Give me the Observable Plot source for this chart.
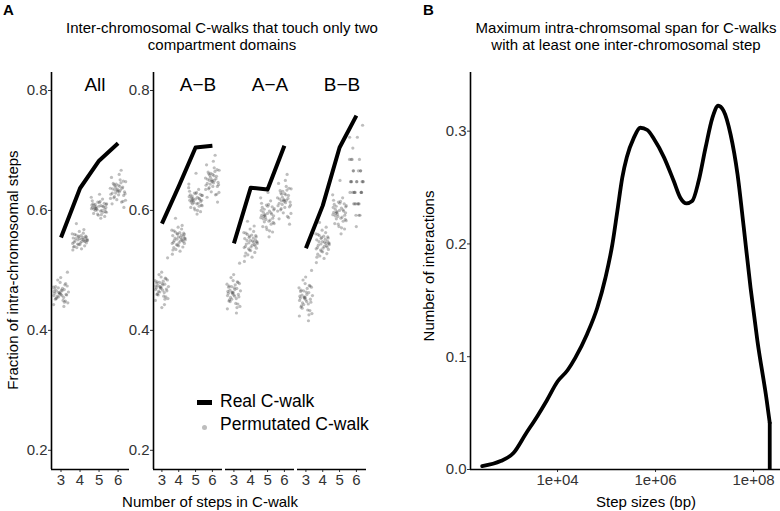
<!DOCTYPE html>
<html>
<head>
<meta charset="utf-8">
<script src="https://cdn.jsdelivr.net/npm/d3@7"></script>
<script src="https://cdn.jsdelivr.net/npm/@observablehq/plot@0.6"></script>
<style>
  html, body { margin: 0; padding: 0; background: white; }
  #wrap { position: relative; width: 780px; height: 511px; overflow: hidden; background: white;
          font-family: "Liberation Sans", Arial, sans-serif; color: black; }
  .abs { position: absolute; white-space: nowrap; }
  .ctr { transform: translateX(-50%); text-align: center; }
  .plotbox { position: absolute; }
</style>
</head>
<body>
<div id="wrap">
  <div class="abs" style="left:3px;top:1px;font-size:15px;font-weight:bold;">A</div>
  <div class="abs" style="left:423px;top:1px;font-size:15px;font-weight:bold;">B</div>
  <div class="abs ctr" style="left:222px;top:19px;font-size:15px;line-height:17px;">Inter-chromosomal C-walks that touch only two<br>compartment domains</div>
  <div class="abs ctr" style="left:626px;top:19px;font-size:15px;line-height:17px;">Maximum intra-chromsomal span for C-walks<br>with at least one inter-chromosomal step</div>
  <div class="abs" style="left:12px;top:270px;font-size:15px;line-height:15px;transform:translate(-50%,-50%) rotate(-90deg);">Fraction of intra-chromosomal steps</div>
  <div class="abs ctr" style="left:210px;top:494px;font-size:15px;line-height:15px;">Number of steps in C-walk</div>
  <div class="abs" style="left:428px;top:266px;font-size:15px;line-height:15px;transform:translate(-50%,-50%) rotate(-90deg);">Number of interactions</div>
  <div class="abs ctr" style="left:646px;top:494px;font-size:15px;line-height:15px;">Step sizes (bp)</div>
  <div id="p1" class="plotbox" style="left:0px;top:60px;"></div>
  <div id="p2" class="plotbox" style="left:100px;top:60px;"></div>
  <div id="p3" class="plotbox" style="left:400px;top:60px;"></div>
  <!-- legend -->
  <div class="abs" style="left:197px;top:400px;width:15px;height:5px;background:black;"></div>
  <div class="abs" style="left:220px;top:392px;font-size:17.5px;line-height:19px;">Real C-walk</div>
  <div class="abs" style="left:201.5px;top:424.5px;width:5px;height:5px;border-radius:50%;background:#bdbdbd;"></div>
  <div class="abs" style="left:220px;top:415px;font-size:17.5px;line-height:19px;">Permutated C-walk</div>
</div>
<script>
// ---------------- Panel A data ----------------
const panels = ["All", "A−B", "A−A", "B−B"];
const steps = [3, 4, 5, 6];
const yTicksA = [0.2, 0.4, 0.6, 0.8];

const realAll = [0.555, 0.637, 0.683, 0.712];
const realAB  = [0.578, 0.640, 0.705, 0.708];
const realAA  = [0.545, 0.638, 0.635, 0.708];
const realBB  = [0.537, 0.608, 0.705, 0.758];

const permAll3 = [0.471,0.455,0.462,0.480,0.449,0.466,0.458,0.474,0.443,0.463,0.468,0.452,0.488,0.460,0.457,0.470,0.446,0.465,0.461,0.476,0.453,0.467,0.459,0.484,0.450,0.464,0.472,0.456,0.440,0.469,0.462,0.478,0.454,0.466,0.497,0.458,0.463,0.447,0.473,0.460];
const permAll4 = [0.556,0.545,0.551,0.562,0.540,0.553,0.548,0.559,0.536,0.550,0.554,0.543,0.568,0.549,0.546,0.557,0.538,0.552,0.550,0.561,0.544,0.555,0.547,0.565,0.541,0.553,0.558,0.546,0.534,0.556,0.551,0.560,0.543,0.554,0.578,0.548,0.552,0.539,0.557,0.549];
const permAll5 = [0.610,0.599,0.605,0.616,0.594,0.607,0.602,0.613,0.590,0.604,0.608,0.597,0.622,0.603,0.600,0.611,0.592,0.606,0.604,0.615,0.598,0.609,0.601,0.619,0.595,0.607,0.612,0.600,0.587,0.610,0.605,0.614,0.597,0.608,0.627,0.602,0.606,0.593,0.611,0.603];
const permAll6 = [0.642,0.625,0.634,0.651,0.617,0.637,0.629,0.646,0.611,0.633,0.639,0.621,0.660,0.631,0.627,0.644,0.614,0.636,0.632,0.649,0.623,0.640,0.628,0.655,0.618,0.637,0.645,0.626,0.605,0.641,0.634,0.648,0.620,0.638,0.667,0.629,0.635,0.615,0.643,0.631];

const permAB3 = [0.480,0.463,0.471,0.489,0.456,0.475,0.467,0.484,0.450,0.472,0.477,0.460,0.497,0.469,0.465,0.482,0.453,0.474,0.470,0.487,0.461,0.478,0.466,0.493,0.457,0.473,0.483,0.464,0.443,0.479,0.471,0.486,0.459,0.476,0.521,0.468,0.473,0.452,0.481,0.438];
const permAB4 = [0.560,0.545,0.552,0.569,0.538,0.556,0.548,0.564,0.532,0.553,0.558,0.542,0.575,0.550,0.546,0.562,0.535,0.555,0.551,0.567,0.543,0.559,0.547,0.572,0.539,0.554,0.563,0.545,0.527,0.561,0.552,0.566,0.541,0.557,0.587,0.549,0.554,0.534,0.561,0.550];
const permAB5 = [0.624,0.611,0.617,0.632,0.604,0.620,0.614,0.628,0.598,0.618,0.622,0.608,0.638,0.616,0.612,0.626,0.601,0.619,0.616,0.630,0.609,0.623,0.613,0.635,0.605,0.619,0.627,0.611,0.594,0.625,0.617,0.629,0.607,0.621,0.662,0.615,0.620,0.600,0.625,0.644];
const permAB6 = [0.660,0.640,0.650,0.671,0.630,0.654,0.644,0.665,0.622,0.649,0.657,0.636,0.682,0.647,0.642,0.662,0.626,0.652,0.648,0.668,0.638,0.658,0.643,0.676,0.631,0.653,0.664,0.640,0.614,0.659,0.650,0.667,0.635,0.655,0.692,0.645,0.651,0.627,0.661,0.646];

const permAA3 = [0.473,0.453,0.462,0.483,0.444,0.467,0.457,0.478,0.436,0.463,0.470,0.449,0.493,0.460,0.455,0.476,0.440,0.465,0.461,0.481,0.451,0.471,0.456,0.488,0.445,0.466,0.477,0.452,0.429,0.472,0.463,0.480,0.448,0.468,0.512,0.458,0.464,0.438,0.474,0.459];
const permAA4 = [0.556,0.538,0.546,0.565,0.529,0.550,0.541,0.560,0.522,0.547,0.553,0.534,0.574,0.544,0.539,0.558,0.526,0.549,0.545,0.563,0.536,0.554,0.540,0.569,0.530,0.550,0.559,0.537,0.515,0.555,0.547,0.562,0.533,0.551,0.582,0.542,0.548,0.524,0.557,0.543];
const permAA5 = [0.602,0.582,0.591,0.612,0.572,0.596,0.586,0.607,0.564,0.592,0.599,0.578,0.621,0.589,0.584,0.605,0.568,0.594,0.590,0.610,0.580,0.600,0.585,0.616,0.573,0.595,0.606,0.581,0.556,0.601,0.592,0.609,0.577,0.597,0.630,0.587,0.593,0.566,0.603,0.588];
const permAA6 = [0.628,0.606,0.616,0.640,0.595,0.621,0.610,0.634,0.586,0.617,0.625,0.601,0.650,0.614,0.608,0.632,0.590,0.619,0.615,0.637,0.603,0.626,0.609,0.645,0.596,0.620,0.633,0.605,0.577,0.627,0.617,0.636,0.599,0.622,0.660,0.612,0.618,0.588,0.629,0.613];

const permBB3 = [0.466,0.444,0.454,0.478,0.433,0.459,0.448,0.472,0.424,0.455,0.463,0.439,0.489,0.452,0.446,0.470,0.428,0.457,0.453,0.475,0.441,0.464,0.447,0.484,0.434,0.458,0.471,0.443,0.416,0.465,0.455,0.474,0.437,0.460,0.500,0.450,0.456,0.426,0.467,0.451];
const permBB4 = [0.554,0.536,0.544,0.563,0.527,0.548,0.539,0.558,0.520,0.545,0.551,0.532,0.572,0.542,0.537,0.556,0.524,0.547,0.543,0.561,0.534,0.552,0.538,0.567,0.528,0.548,0.557,0.535,0.513,0.553,0.545,0.560,0.531,0.549,0.580,0.540,0.546,0.522,0.555,0.541];
const permBB5 = [0.607,0.587,0.596,0.617,0.577,0.601,0.591,0.612,0.569,0.597,0.604,0.583,0.626,0.594,0.589,0.610,0.573,0.599,0.595,0.615,0.585,0.605,0.590,0.621,0.578,0.600,0.611,0.586,0.561,0.606,0.597,0.614,0.582,0.602,0.650,0.592,0.598,0.571,0.608,0.593];
const permBB6 = [0.648,0.630,0.666,0.611,0.648,0.685,0.630,0.592,0.648,0.611,0.666,0.630,0.722,0.648,0.630,0.611,0.685,0.648,0.573,0.630,0.666,0.611,0.742,0.648,0.630,0.592,0.685,0.648,0.630,0.611,0.666,0.648,0.722,0.630,0.611,0.685,0.592,0.666,0.704];

// ---------------- Panel B data ----------------
const spanBp = [2.9e2,6.9e2,1.26e3,2.24e3,3.9e3,6.0e3,1.0e4,1.6e4,2.3e4,4.0e4,6.5e4,9.5e4,1.32e5,1.66e5,2.1e5,2.6e5,3.6e5,4.9e5,6.8e5,9.3e5,1.48e6,2.34e6,3.2e6,4.3e6,5.6e6,7.6e6,1.05e7,1.45e7,1.9e7,2.45e7,3.4e7,4.7e7,6.3e7,8.7e7,1.2e8,1.86e8,2.14e8];
const spanDensity = [0.003,0.0075,0.0146,0.0315,0.0475,0.061,0.078,0.088,0.099,0.12,0.1436,0.17,0.2,0.229,0.259,0.277,0.294,0.303,0.301,0.293,0.277,0.256,0.241,0.236,0.238,0.256,0.2855,0.312,0.3225,0.318,0.297,0.262,0.215,0.161,0.114,0.061,0.0415];
const xTicksB = [1e4, 1e6, 1e8];
const yTicksB = [0, 0.1, 0.2, 0.3];

// ---------------- build tables ----------------
const permByPanel = {
  "All": [permAll3, permAll4, permAll5, permAll6],
  "A−B": [permAB3, permAB4, permAB5, permAB6],
  "A−A": [permAA3, permAA4, permAA5, permAA6],
  "B−B": [permBB3, permBB4, permBB5, permBB6]
};
const realByPanel = {"All": realAll, "A−B": realAB, "A−A": realAA, "B−B": realBB};

const permRows = panels.flatMap(p => permByPanel[p].flatMap((vals, k) =>
  vals.map((v, i) => ({panel: p, steps: steps[k], value: v, i: i + 7 * k}))));
const realRows = panels.flatMap(p => realByPanel[p].map((v, k) => ({panel: p, steps: steps[k], value: v})));
const densRows = spanBp.map((x, i) => ({bp: x, density: spanDensity[i]}));

// deterministic horizontal jitter (layout only): van der Corput sequence, base 3
function vdc3(n) { let r = 0, f = 1 / 3; n = n + 1; while (n > 0) { r += (n % 3) * f; n = Math.floor(n / 3); f /= 3; } return r; }
const jitterW = 0.42;
const jitterX = i => (vdc3(i) - 0.5) * 2 * jitterW;

const xDomA = [2.5, 6.6];
const yDomA = [0.168, 0.83];
const font = "'Liberation Sans', Arial, sans-serif";
const baseStyle = {fontFamily: font, fontSize: "15px", color: "#333", background: "transparent", overflow: "visible"};
const axisStroke = {stroke: "black", strokeWidth: 1.6};

function xScaleA() { return {domain: xDomA, ticks: steps, tickFormat: d3.format("d"), tickSize: 3, tickPadding: 2, label: null}; }
function yScaleA() { return {domain: yDomA, ticks: yTicksA, tickFormat: d3.format(".1f"), tickSize: 3, tickPadding: 1, label: null}; }

// Plot 1: "All"
const p1 = Plot.plot({
  width: 134, height: 429, marginLeft: 51, marginRight: 5, marginTop: 12, marginBottom: 20,
  style: baseStyle,
  x: xScaleA(), y: yScaleA(),
  marks: [
    Plot.ruleX([xDomA[0]], axisStroke),
    Plot.ruleY([yDomA[0]], axisStroke),
    Plot.dot(permRows.filter(d => d.panel === "All"), {x: d => d.steps + jitterX(d.i), y: "value", r: 1.6, fill: "#444", fillOpacity: 0.35, stroke: "none"}),
    Plot.line(realRows.filter(d => d.panel === "All"), {x: "steps", y: "value", stroke: "black", strokeWidth: 4, strokeLinecap: "butt"}),
    Plot.text(["All"], {text: d => d, frameAnchor: "top", dy: 5, dx: 4.5, fontSize: 19, fill: "black"})
  ]
});
document.getElementById("p1").append(p1);

// Plot 2: A−B, A−A, B−B facets
const facetNames = panels.slice(1);
const p2 = Plot.plot({
  width: 271, height: 429, marginLeft: 53, marginRight: 5, marginTop: 12, marginBottom: 20,
  style: baseStyle,
  fx: {domain: facetNames, paddingInner: 0.042, paddingOuter: 0, axis: null, label: null},
  x: xScaleA(), y: yScaleA(),
  marks: [
    Plot.ruleX([facetNames[0]], {x: () => xDomA[0], fx: d => d, ...axisStroke}),
    Plot.ruleY([yDomA[0]], axisStroke),
    Plot.dot(permRows.filter(d => d.panel !== "All"), {fx: "panel", x: d => d.steps + jitterX(d.i), y: "value", r: 1.6, fill: "#444", fillOpacity: 0.35, stroke: "none"}),
    Plot.line(realRows.filter(d => d.panel !== "All"), {fx: "panel", x: "steps", y: "value", stroke: "black", strokeWidth: 4, strokeLinecap: "butt"}),
    Plot.text(facetNames, {fx: d => d, text: d => d, frameAnchor: "top", dy: 5, dx: 10, fontSize: 19, fill: "black"})
  ]
});
document.getElementById("p2").append(p2);

// Plot 3: panel B
const xDomB = [10 ** 2.224, 10 ** 8.55];
const fmtE = d => "1e+" + String(Math.round(Math.log10(d))).padStart(2, "0");
const last = densRows[densRows.length - 1];
const p3 = Plot.plot({
  width: 380, height: 429, marginLeft: 70, marginRight: 0, marginTop: 12, marginBottom: 20,
  style: baseStyle,
  x: {type: "log", domain: xDomB, ticks: xTicksB, tickFormat: fmtE, tickSize: 3, tickPadding: 2, label: null},
  y: {domain: [0, 0.352], ticks: yTicksB, tickFormat: d3.format(".1f"), tickSize: 3, tickPadding: 1, label: null},
  marks: [
    Plot.ruleX([xDomB[0]], axisStroke),
    Plot.ruleY([0], axisStroke),
    Plot.line(densRows, {x: "bp", y: "density", curve: "monotone-x", stroke: "black", strokeWidth: 3.8}),
    Plot.ruleX([last], {x: "bp", y1: 0, y2: "density", stroke: "black", strokeWidth: 3.8})
  ]
});
document.getElementById("p3").append(p3);
</script>
</body>
</html>
